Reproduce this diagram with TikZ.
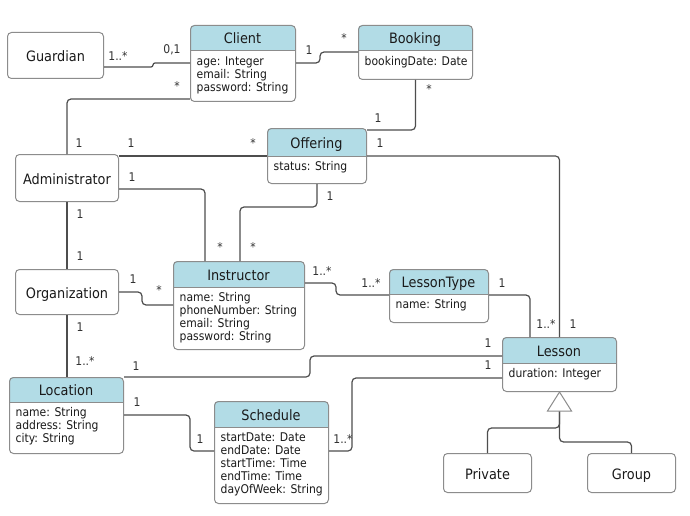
\documentclass[tikz,border=0pt]{standalone}
\usepackage{fontspec}
\setmainfont{DejaVu Sans Condensed}
\usetikzlibrary{calc}

\definecolor{headfillcol}{RGB}{178,220,230}
\definecolor{framecol}{RGB}{140,140,140}
\definecolor{linecol}{RGB}{78,78,78}
\definecolor{textcol}{RGB}{26,26,26}
\definecolor{labelcol}{RGB}{50,50,50}

\tikzset{
  classframe/.style={draw=framecol, line width=1pt, rounded corners=4pt, inner sep=0pt},
  plainbox/.style={classframe, font=\fontsize{14.3}{16}\selectfont, text=textcol,
    text height=15pt, text depth=3pt},
  divider/.style={draw=framecol, line width=1pt},
  headfill/.style={fill=headfillcol},
  classtitle/.style={font=\fontsize{14.3}{16}\selectfont, text=textcol, inner sep=0pt,
    text height=15pt, text depth=3pt},
  attrtext/.style={font=\fontsize{12}{12.9}\selectfont, text=textcol, inner sep=0pt,
    align=left, anchor=north west},
  assoc/.style={draw=linecol, line width=1.2pt, rounded corners=4pt},
  shortjog/.style={assoc, rounded corners=2pt},
  mult/.style={font=\fontsize{12}{14}\selectfont, text=labelcol, inner sep=0pt},
  gentri/.style={draw=framecol, fill=white, line width=1pt, line join=miter}
}

% #1 name, #2 left, #3 top, #4 width, #5 height, #6 header height, #7 title, #8 attributes
\newcommand\umlclass[8]{%
  \begin{scope}
    \clip[rounded corners=4pt] (#2,#3) rectangle (#2+#4,#3+#5);
    \fill[headfill] (#2,#3) rectangle (#2+#4,#3+#6);
  \end{scope}
  \node[classframe, minimum width=#4pt, minimum height=#5pt, anchor=north west] (#1) at (#2,#3) {};
  \draw[divider] (#2,#3+#6) -- (#2+#4,#3+#6);
  \node[classtitle] (#1-title) at (#2+#4/2,#3+#6/2) {#7};
  \node[attrtext] (#1-attrs) at (#2+6.5,#3+#6+5.5) {#8};
}

\begin{document}
\begin{tikzpicture}[x=1pt, y=-1pt]
  \fill[white] (0,0) rectangle (690,516);
  \useasboundingbox (0,0) rectangle (690,516);

  % plain classes
  \node[plainbox, minimum width=96pt, minimum height=46pt, anchor=north west] (guardian) at (7,32) {Guardian};
  \node[plainbox, minimum width=103pt, minimum height=47pt, anchor=north west] (admin) at (15,154) {Administrator};
  \node[plainbox, minimum width=103pt, minimum height=45pt, anchor=north west] (organization) at (15,269) {Organization};
  \node[plainbox, minimum width=88pt, minimum height=39pt, anchor=north west] (private) at (443,453) {Private};
  \node[plainbox, minimum width=88pt, minimum height=39pt, anchor=north west] (group) at (587,453) {Group};

  % classes with attributes
  \umlclass{client}{190}{25}{105}{76}{26}{Client}{age: Integer\\email: String\\password: String}
  \umlclass{booking}{358}{25}{114}{54}{26}{Booking}{bookingDate: Date}
  \umlclass{offering}{267}{128}{99}{55}{28}{Offering}{status: String}
  \umlclass{instructor}{173}{261}{131}{88}{26}{Instructor}{name: String\\phoneNumber: String\\email: String\\password: String}
  \umlclass{lessontype}{389}{269}{99}{53}{25}{LessonType}{name: String}
  \umlclass{location}{9}{377}{114}{76}{25}{Location}{name: String\\address: String\\city: String}
  \umlclass{schedule}{214}{401}{114}{102}{26}{Schedule}{startDate: Date\\endDate: Date\\startTime: Time\\endTime: Time\\dayOfWeek: String}
  \umlclass{lesson}{502}{337}{114}{54}{26}{Lesson}{duration: Integer}

  % associations
  \draw[shortjog] (guardian.east |- 0,67) -| (153,63) -- (client.west |- 0,63);
  \draw[assoc] (client.east |- 0,63) -| (320,52) -- (booking.west |- 0,52);
  \draw[assoc] (client.west |- 0,99) -| (admin.north);
  \draw[assoc] (booking.south) |- (offering.east |- 0,130);
  \draw[assoc] (admin.east |- 0,156) -- (offering.west |- 0,156);
  \draw[assoc] (offering.east |- 0,156) -| (lesson.north);
  \draw[assoc] (admin.east |- 0,189) -| (205,0 |- instructor.north);
  \draw[assoc] (offering.south) |- (240,207) -- (240,0 |- instructor.north);
  \draw[assoc] (admin.south) -- (organization.north);
  \draw[assoc] (organization.east |- 0,292) -| (142,305) -- (instructor.west |- 0,305);
  \draw[assoc] (instructor.east |- 0,283) -| (336,295) -- (lessontype.west |- 0,295);
  \draw[assoc] (lessontype.east |- 0,295) -| (530,0 |- lesson.north);
  \draw[assoc] (organization.south) -- (organization.south |- location.north);
  \draw[assoc] (location.north east) -| (310,356) -- (lesson.west |- 0,356);
  \draw[assoc] (location.east |- 0,415) -| (190,451) -- (schedule.west |- 0,451);
  \draw[assoc] (schedule.east |- 0,451) -| (352,378) -- (lesson.west |- 0,378);

  % generalization
  \coordinate (genbase) at ([yshift=-19pt]lesson.south);
  \draw[assoc] (genbase) |- (private.north |- 0,428) -- (private.north);
  \draw[assoc] (genbase) |- (group.north |- 0,442) -- (group.north);
  \draw[gentri] (lesson.south) -- ++(-12,19) -- ++(24,0) -- cycle;

  % multiplicities
  \node[mult] (m01) at (118,56) {1..*};
  \node[mult] (m02) at (172,50) {0,1};
  \node[mult] (m03) at (309,50) {1};
  \node[mult] (m04) at (344,38) {*};
  \node[mult] (m05) at (177,86) {*};
  \node[mult] (m06) at (79,143) {1};
  \node[mult] (m07) at (429,89) {*};
  \node[mult] (m08) at (378,118) {1};
  \node[mult] (m09) at (131,143) {1};
  \node[mult] (m10) at (253,143) {*};
  \node[mult] (m11) at (380,143) {1};
  \node[mult] (m12) at (573,324) {1};
  \node[mult] (m13) at (132,177) {1};
  \node[mult] (m14) at (220,247) {*};
  \node[mult] (m15) at (330,196) {1};
  \node[mult] (m16) at (253,247) {*};
  \node[mult] (m17) at (80,214) {1};
  \node[mult] (m18) at (80,256) {1};
  \node[mult] (m19) at (133,279) {1};
  \node[mult] (m20) at (159,290) {*};
  \node[mult] (m21) at (322,271) {1..*};
  \node[mult] (m22) at (371,283) {1..*};
  \node[mult] (m23) at (502,283) {1};
  \node[mult] (m24) at (546,324) {1..*};
  \node[mult] (m25) at (80,327) {1};
  \node[mult] (m26) at (85,361) {1..*};
  \node[mult] (m27) at (136,366) {1};
  \node[mult] (m28) at (488,343) {1};
  \node[mult] (m29) at (137,402) {1};
  \node[mult] (m30) at (200,439) {1};
  \node[mult] (m31) at (343,439) {1..*};
  \node[mult] (m32) at (488,365) {1};
\end{tikzpicture}
\end{document}
